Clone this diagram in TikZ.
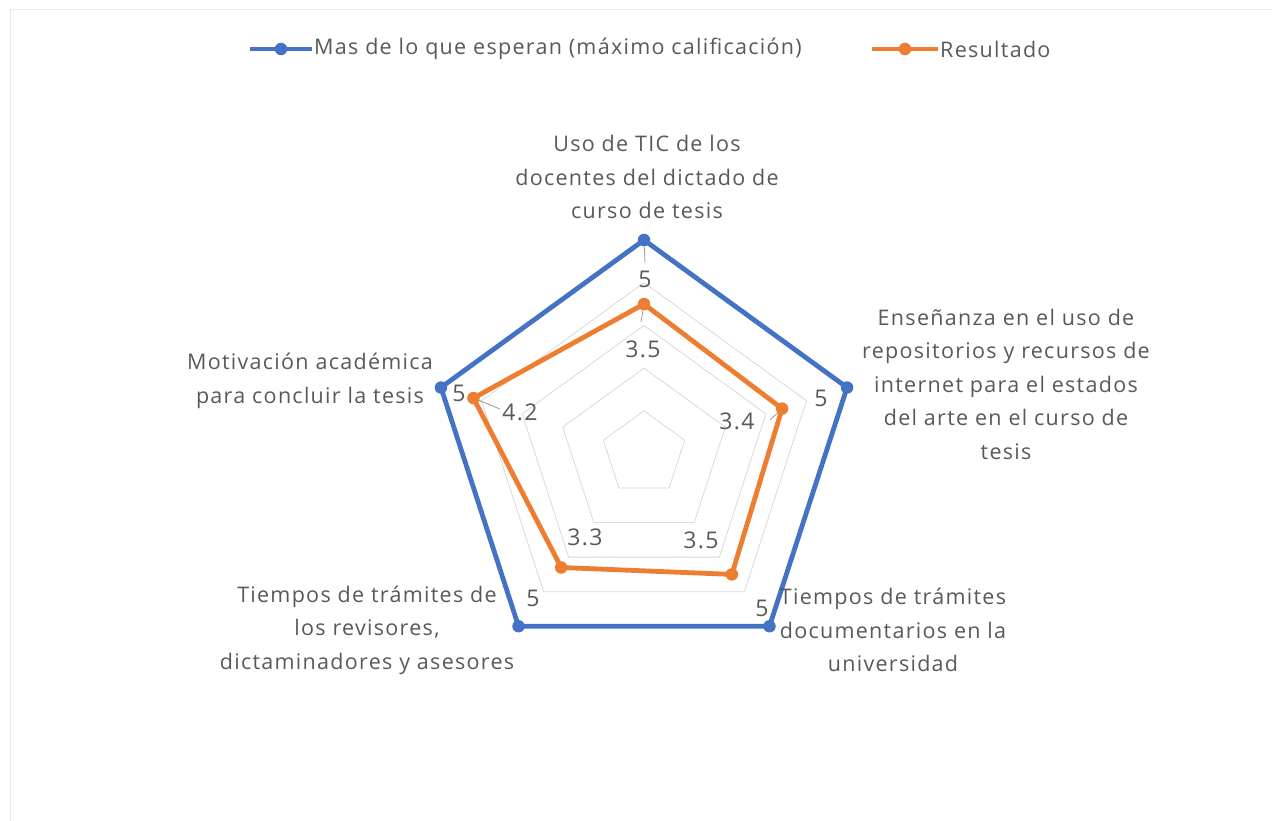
\documentclass[tikz,border=0pt]{standalone}
\usepackage{fontspec}
\setmainfont{Open Sans}[LetterSpace=6]
\definecolor{cblue}{HTML}{4472C4}
\definecolor{corange}{HTML}{ED7D31}
\definecolor{ctext}{HTML}{595959}
\definecolor{cgrid}{HTML}{D9D9D9}
\definecolor{cframe}{HTML}{E3EAF2}
\begin{document}
\begin{tikzpicture}[x=1pt,y=-1pt,
  lbl/.style={font=\fontsize{21.5}{33.5}\selectfont, text=ctext, align=center, inner sep=0pt},
  dlbl/.style={font=\fontsize{23}{24}\selectfont, text=ctext, inner sep=0pt},
  serblue/.style={draw=cblue, line width=4.8pt, line join=round},
  serorange/.style={draw=corange, line width=4.8pt, line join=round},
  mblue/.style={circle, fill=cblue, inner sep=0pt, minimum size=12.5pt},
  morange/.style={circle, fill=corange, inner sep=0pt, minimum size=12.5pt},
  gridl/.style={draw=cgrid, line width=0.8pt},
  leader/.style={draw=ctext!60, line width=0.8pt}]
\useasboundingbox (0,0) rectangle (1272,821);
\fill[white] (0,0) rectangle (1272,821);
\draw[cframe, line width=1pt] (10,821) -- (10,10) -- (1272,10);
% grid
\foreach \v in {1,2,3,4,5}{
  \draw[gridl] ({644+42.7*\v*sin(0)},{453.5-42.7*\v*cos(0)})
    \foreach \k in {1,2,3,4}{ -- ({644+42.7*\v*sin(72*\k)},{453.5-42.7*\v*cos(72*\k)}) } -- cycle;
}
% series coordinates
\foreach \k/\vb/\vo in {0/5/3.5,1/5/3.4,2/5/3.5,3/5/3.3,4/5/4.2}{
  \coordinate (b\k) at ({644+42.7*\vb*sin(72*\k)},{453.5-42.7*\vb*cos(72*\k)});
  \coordinate (o\k) at ({644+42.7*\vo*sin(72*\k)},{453.5-42.7*\vo*cos(72*\k)});
}
% leader lines
\coordinate (lt) at (645,263);
\coordinate (lto) at (641,322);
\coordinate (ll) at (500,409);
\coordinate (lr) at (770,420);
\draw[leader] (b0) -- (lt);
\draw[leader] (o0) -- (lto);
\draw[leader] (o4) -- (ll);
\draw[leader] (o1) -- (lr);
% series
\draw[serblue] (b0) -- (b1) -- (b2) -- (b3) -- (b4) -- cycle;
\draw[serorange] (o0) -- (o1) -- (o2) -- (o3) -- (o4) -- cycle;
\foreach \k in {0,...,4}{
  \node[mblue] (mb\k) at (b\k) {};
  \node[morange] (mo\k) at (o\k) {};
}
% data labels
\node[dlbl] (db0) at (645,279) {5};
\node[dlbl] (do0) at (643,349) {3.5};
\node[dlbl] (db1) at (821,398) {5};
\node[dlbl] (do1) at (737,421) {3.4};
\node[dlbl] (db2) at (762,608) {5};
\node[dlbl] (do2) at (701,540) {3.5};
\node[dlbl] (db3) at (533,598) {5};
\node[dlbl] (do3) at (585,537) {3.3};
\node[dlbl] (db4) at (459,393) {5};
\node[dlbl] (do4) at (520,412) {4.2};
% category labels
\node[lbl] (c0) at (647,177) {Uso de TIC de los\\docentes del dictado de\\curso de tesis};
\node[lbl] (c1) at (1006,384) {Enseñanza en el uso de\\repositorios y recursos de\\internet para el estados\\del arte en el curso de\\tesis};
\node[lbl] (c2) at (893,630) {Tiempos de trámites\\documentarios en la\\universidad};
\node[lbl] (c3) at (367,630) {Tiempos de trámites de\\los revisores,\\dictaminadores y asesores};
\node[lbl] (c4) at (310,381) {Motivación académica\\para concluir la tesis};
% legend
\coordinate (lb1) at (250,49);
\coordinate (lb2) at (312,49);
\coordinate (lo1) at (872,49);
\coordinate (lo2) at (938,49);
\draw[serblue] (lb1) -- (lb2);
\node[mblue] (lbm) at (281,49) {};
\node[lbl, anchor=west] (lbt) at (314,49) {Mas de lo que esperan (máximo calificación)};
\draw[serorange] (lo1) -- (lo2);
\node[morange] (lom) at (905,49) {};
\node[lbl, anchor=west] (lot) at (940,49) {Resultado};
\end{tikzpicture}
\end{document}
